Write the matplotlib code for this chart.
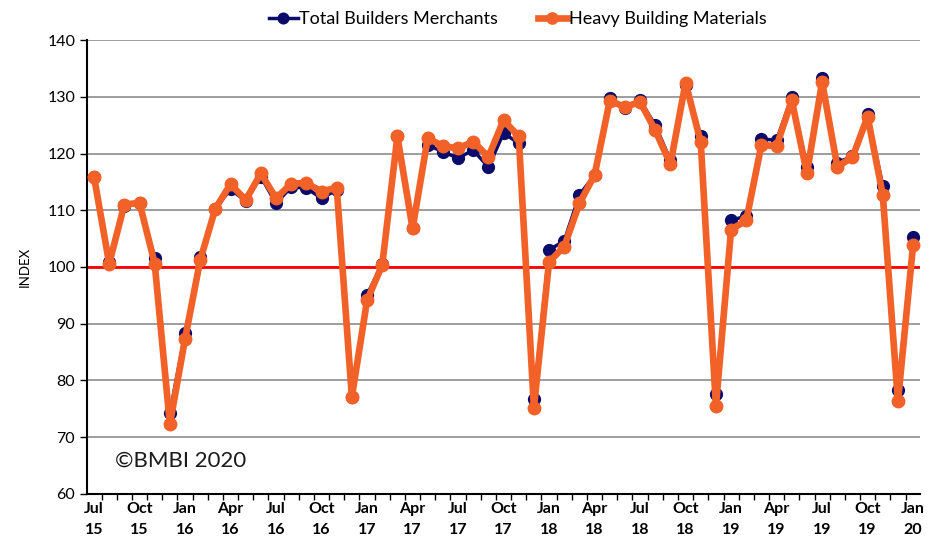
import matplotlib
matplotlib.use("Agg")
import matplotlib.pyplot as plt
from matplotlib.ticker import MultipleLocator, FixedLocator

months = ["Jul", "Aug", "Sep", "Oct", "Nov", "Dec"] + ["Jan", "Feb", "Mar", "Apr", "May", "Jun", "Jul", "Aug", "Sep", "Oct", "Nov", "Dec"] * 4 + ["Jan"]
years = [15] * 6 + [16] * 12 + [17] * 12 + [18] * 12 + [19] * 12 + [20]

total = [115.8, 100.8, 110.7, 111.2, 101.6, 74.2, 88.3, 101.7, 110.3, 113.7,
         111.6, 115.9, 111.2, 114.1, 113.9, 112.1, 113.6, 77.1, 95.1, 100.6,
         123.0, 106.8, 121.5, 120.3, 119.2, 120.6, 117.6, 123.6, 121.8, 76.7,
         103.0, 104.6, 112.7, 116.2, 129.8, 128.0, 129.4, 125.0, 118.8, 132.0,
         123.0, 77.6, 108.2, 109.0, 122.5, 122.4, 129.9, 117.7, 133.3, 118.4,
         119.5, 127.0, 114.3, 78.3, 105.3]
heavy = [115.9, 100.6, 111.0, 111.3, 100.6, 72.3, 87.3, 101.2, 110.3, 114.6,
         111.8, 116.5, 112.1, 114.7, 114.8, 113.3, 114.0, 77.1, 94.1, 100.35,
         123.0, 106.8, 122.7, 121.3, 120.9, 122.1, 119.4, 125.9, 123.0, 75.2,
         100.9, 103.6, 111.2, 116.2, 129.3, 128.2, 129.1, 124.1, 118.1, 132.5,
         122.0, 75.5, 106.6, 108.2, 121.5, 121.3, 129.4, 116.5, 132.6, 117.7,
         119.3, 126.5, 112.7, 76.3, 103.9]

plt.rcParams['font.family'] = ['Lato', 'DejaVu Sans']

fig = plt.figure(figsize=(9.36, 5.41), dpi=100)
ax = fig.add_axes([0.093, 0.087, 0.890, 0.839])

x = list(range(len(total)))
navy = "#0B0B6B"
orange = "#F26228"

ax.plot(x, total, color=navy, lw=2.5, marker='o', ms=8.5, zorder=3,
        label="Total Builders Merchants")
ax.plot(x, heavy, color=orange, lw=4.8, marker='o', ms=9, zorder=4,
        label="Heavy Building Materials")
ax.axhline(100, color="#FF0000", lw=2, zorder=2)

ax.set_ylim(60, 140)
ax.set_xlim(-0.46, len(x) - 1 + 0.46)
ax.yaxis.set_major_locator(MultipleLocator(10))
ax.grid(axis='y', color="#8C8C8C", lw=1.2, zorder=0)
ax.set_axisbelow(True)

major = [i for i in x if i % 3 == 0]
ax.set_xticks(major)
ax.set_xticklabels([f"{months[i]}\n{years[i]}" for i in major],
                   fontweight='bold', fontsize=11.5, linespacing=1.6)
ax.xaxis.set_minor_locator(FixedLocator([i - 0.5 for i in range(len(x) + 1)]))
ax.tick_params(axis='x', which='major', length=0, pad=6)
ax.tick_params(axis='x', which='minor', length=4, direction='out', width=1)
ax.tick_params(axis='y', labelsize=11.5, length=5, width=1, direction='out')

for s in ['top', 'right']:
    ax.spines[s].set_visible(False)
ax.spines['left'].set_linewidth(1.5)
ax.spines['bottom'].set_linewidth(1.5)

fig.text(25 / 936, 1 - 267 / 541, "INDEX", rotation=90, fontsize=9.5,
         ha='center', va='center')

ax.text(0.033, 0.06, "\u00a9BMBI 2020", transform=ax.transAxes,
        fontsize=16, color="#1a1a1a")

fig.legend(loc='upper center', bbox_to_anchor=(0.553, 1.01), ncol=2,
           frameon=False, fontsize=13, handlelength=1.6, handletextpad=0.1,
           columnspacing=2.2, markerscale=0.9)

fig.savefig("out.png", dpi=100)
